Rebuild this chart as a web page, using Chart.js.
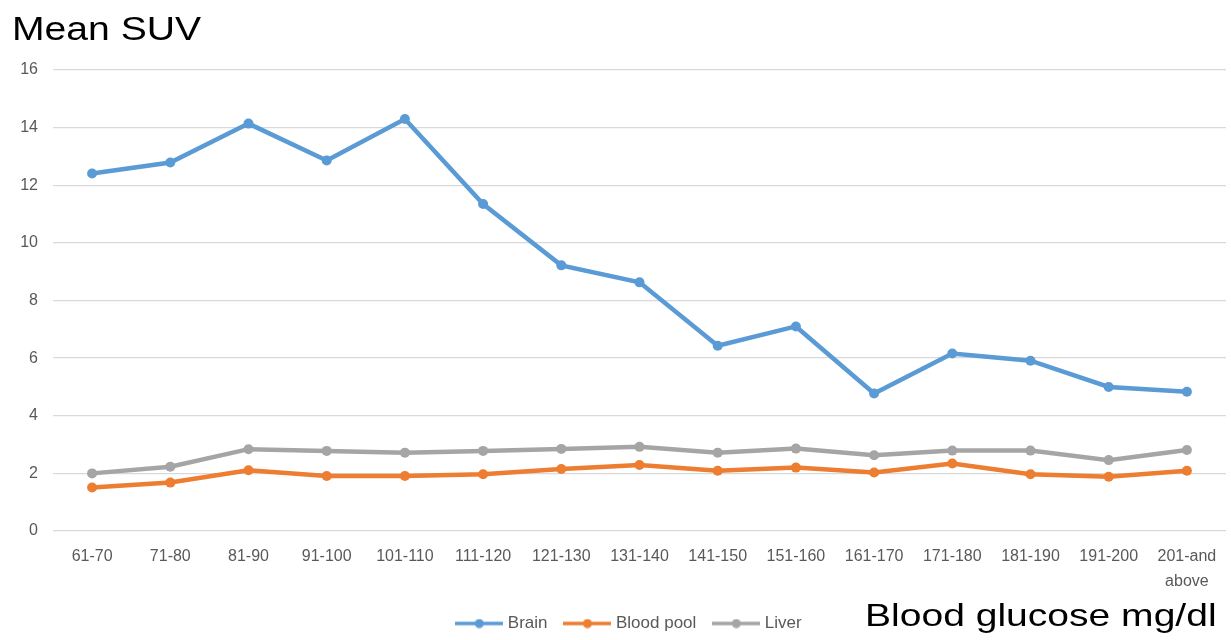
<!DOCTYPE html>
<html>
<head>
<meta charset="utf-8">
<script src="https://cdn.jsdelivr.net/npm/chart.js@4.4.1/dist/chart.umd.min.js"></script>
<style>
  html, body { margin: 0; padding: 0; background: #fff; }
  #wrap { position: relative; width: 1231px; height: 640px; overflow: hidden; }
  #chart { position: absolute; left: 0; top: 0; }
  .lbl { position: absolute; font-family: "Liberation Sans", Arial, sans-serif; color: #000; line-height: 1; white-space: nowrap; transform-origin: left top; }
  #ytitle { left: 12px; top: 11px; font-size: 34px; transform: scaleX(1.15); }
  #xtitle { left: 865px; top: 599px; font-size: 32px; transform: scaleX(1.22); }
</style>
</head>
<body>
<div id="wrap">
  <canvas id="chart" width="1231" height="640"></canvas>
  <div class="lbl" id="ytitle">Mean SUV</div>
  <div class="lbl" id="xtitle">Blood glucose mg/dl</div>
</div>
<script>
const categories = ['61-70', '71-80', '81-90', '91-100', '101-110', '111-120', '121-130', '131-140',
    '141-150', '151-160', '161-170', '171-180', '181-190', '191-200', ['201-and', 'above']];
const brain = [12.41, 12.79, 14.14, 12.86, 14.3, 11.35, 9.22, 8.63, 6.43, 7.1, 4.77, 6.16, 5.91, 5.0, 4.83];
const bloodPool = [1.51, 1.68, 2.11, 1.91, 1.91, 1.97, 2.15, 2.29, 2.09, 2.2, 2.03, 2.34, 1.97, 1.88, 2.09];
const liver = [2.0, 2.23, 2.84, 2.78, 2.72, 2.78, 2.85, 2.92, 2.72, 2.86, 2.63, 2.79, 2.79, 2.46, 2.81];
const yTicks = [0, 2, 4, 6, 8, 10, 12, 14, 16];

const tickColor = '#595959';
const font = 'Liberation Sans';

// little line-with-dot marker for the legend, like the office style
function legendMark(color) {
    const c = document.createElement('canvas');
    c.width = 48; c.height = 10;
    const g = c.getContext('2d');
    g.strokeStyle = color;
    g.lineWidth = 3.5;
    g.beginPath(); g.moveTo(0, 5); g.lineTo(48, 5); g.stroke();
    g.fillStyle = color;
    g.beginPath(); g.arc(24, 5, 4.5, 0, Math.PI * 2); g.fill();
    return c;
}

function series(label, data, color) {
    return {
        label: label,
        data: data,
        borderColor: color,
        backgroundColor: color,
        borderWidth: 4.5,
        pointRadius: 5,
        pointBorderWidth: 0,
        pointBackgroundColor: color,
        tension: 0,
        fill: false,
        mark: legendMark(color)
    };
}

// legend in the original sits a bit right of the canvas centre
const nudgeLegend = {
    id: 'nudgeLegend',
    afterLayout(ch) {
        ch.legend.left += 16;
        ch.legend.right += 16;
        ch.legend.top += 2;
        ch.legend.bottom += 2;
    }
};

const ctx = document.getElementById('chart').getContext('2d');
const chart = new Chart(ctx, {
    type: 'line',
    data: {
        labels: categories,
        datasets: [
            series('Brain', brain, '#5B9BD5'),
            series('Blood pool', bloodPool, '#ED7D31'),
            series('Liver', liver, '#A5A5A5')
        ]
    },
    plugins: [nudgeLegend],
    options: {
        responsive: false,
        animation: false,
        devicePixelRatio: 1,
        layout: { padding: { top: 70, left: 0, right: 2, bottom: 0 } },
        scales: {
            y: {
                min: 0, max: 16,
                afterBuildTicks: (s) => { s.ticks = yTicks.map(v => ({ value: v })); },
                afterFit: (s) => { s.width = 53; },
                border: { display: false },
                grid: { color: '#D9D9D9', lineWidth: 1.3, drawTicks: false },
                ticks: { color: tickColor, padding: 15, font: { family: font, size: 16 } }
            },
            x: {
                offset: true,
                afterFit: (s) => { s.height = 62; },
                border: { display: false },
                grid: { display: false, drawTicks: false },
                ticks: { color: tickColor, padding: 13, maxRotation: 0, autoSkip: false,
                    font: { family: font, size: 16, lineHeight: 1.55 } }
            }
        },
        plugins: {
            legend: {
                position: 'bottom',
                labels: {
                    color: tickColor,
                    font: { family: font, size: 17 },
                    usePointStyle: true,
                    pointStyleWidth: 40,
                    padding: 20,
                    generateLabels: (ch) => {
                        const items = Chart.defaults.plugins.legend.labels.generateLabels(ch);
                        items.forEach(it => { it.pointStyle = ch.data.datasets[it.datasetIndex].mark; });
                        return items;
                    }
                }
            },
            tooltip: { enabled: false }
        }
    }
});
</script>
</body>
</html>
